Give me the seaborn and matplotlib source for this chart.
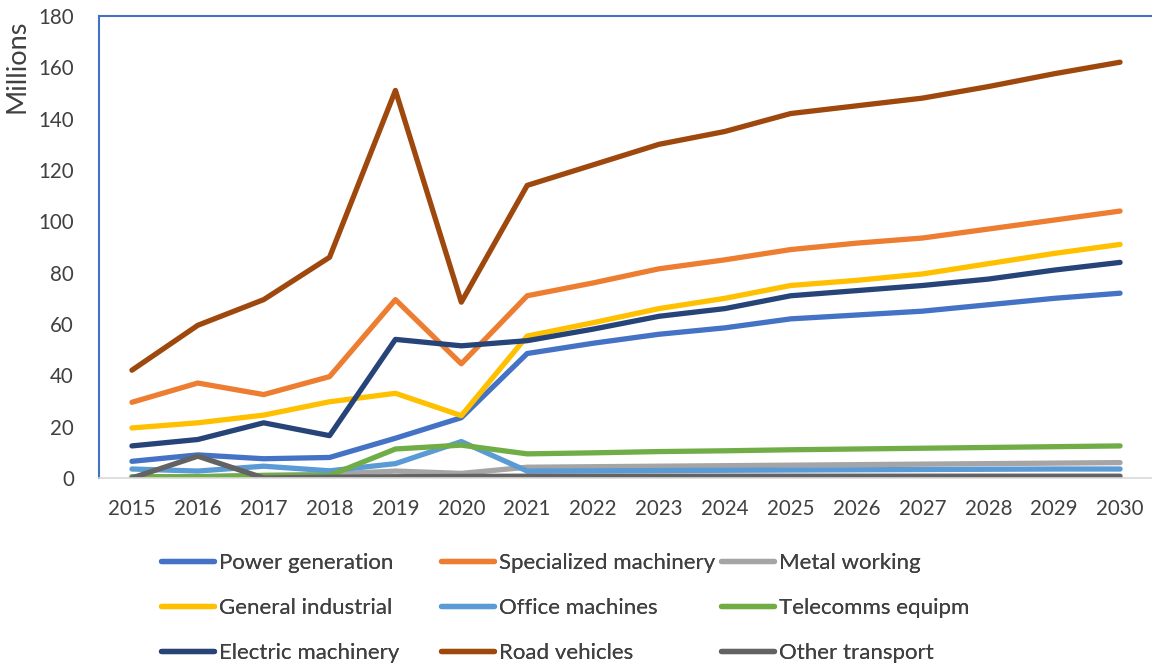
import numpy as np
import pandas as pd
import matplotlib
matplotlib.use("Agg")
import matplotlib.pyplot as plt
import seaborn as sns

years = [str(y) for y in range(2015, 2031)]

power_generation = [6.5, 9.0, 7.5, 8.0, 15.5, 23.5, 48.5, 52.5, 56.0, 58.5, 62.0, 63.5, 65.0, 67.5, 70.0, 72.0]
specialized_machinery = [29.5, 37.0, 32.5, 39.5, 69.5, 44.5, 71.0, 76.0, 81.5, 85.0, 89.0, 91.5, 93.5, 97.0, 100.5, 104.0]
metal_working = [0.5, 0.5, 1.0, 1.5, 2.7, 1.8, 4.2, 4.4, 4.6, 4.8, 5.0, 5.2, 5.4, 5.6, 5.8, 6.0]
general_industrial = [19.5, 21.5, 24.5, 29.7, 33.0, 24.3, 55.3, 60.5, 66.0, 70.0, 75.0, 77.0, 79.5, 83.5, 87.5, 91.0]
office_machines = [3.5, 2.7, 4.6, 2.8, 5.6, 14.2, 2.7, 2.8, 2.9, 3.0, 3.1, 3.2, 3.3, 3.4, 3.5, 3.5]
telecomms_equipm = [0.5, 0.5, 1.0, 1.0, 11.3, 12.8, 9.4, 9.8, 10.3, 10.6, 11.0, 11.3, 11.6, 11.9, 12.2, 12.5]
electric_machinery = [12.5, 15.0, 21.5, 16.5, 54.0, 51.5, 53.5, 58.0, 63.0, 66.0, 71.0, 73.0, 75.0, 77.5, 81.0, 84.0]
road_vehicles = [42.0, 59.5, 69.5, 86.0, 151.0, 68.5, 114.0, 122.0, 130.0, 135.0, 142.0, 145.0, 148.0, 152.5, 157.5, 162.0]
other_transport = [0.0, 8.5, 0.0, 0.3, 0.5, 0.6, 0.7, 0.7, 0.7, 0.7, 0.7, 0.7, 0.7, 0.7, 0.7, 0.7]

series_names = ["Power generation", "Specialized machinery", "Metal working",
                "General industrial", "Office machines", "Telecomms equipm",
                "Electric machinery", "Road vehicles", "Other transport"]
series_values = [power_generation, specialized_machinery, metal_working,
                 general_industrial, office_machines, telecomms_equipm,
                 electric_machinery, road_vehicles, other_transport]
series_colors = ["#4472C4", "#ED7D31", "#A5A5A5", "#FFC000", "#5B9BD5",
                 "#70AD47", "#264478", "#9E480E", "#636363"]

y_ticks = [0, 20, 40, 60, 80, 100, 120, 140, 160, 180]

rows = []
for name, vals in zip(series_names, series_values):
    for i, v in enumerate(vals):
        rows.append({"idx": i, "year": years[i], "value": v, "series": name})
df = pd.DataFrame(rows)

sns.set_theme(style="white")
plt.rcParams["font.family"] = ["Lato", "DejaVu Sans"]

TEXT = "#404040"
W, H = 1152, 667

fig = plt.figure(figsize=(W / 100, H / 100), dpi=100)
ax = fig.add_axes([99 / W, 1 - 478 / H, (1153 - 99) / W, (478 - 16) / H])

sns.lineplot(data=df, x="idx", y="value", hue="series", hue_order=series_names,
             palette=series_colors, linewidth=3.8, ax=ax, legend=False,
             solid_capstyle="round", solid_joinstyle="round")

ax.set_xlim(-0.5, 15.5)
ax.set_ylim(0, 180)
ax.set_xticks(range(len(years)))
ax.set_xticklabels(years)
ax.set_yticks(y_ticks)
ax.tick_params(axis="both", length=0, labelsize=14.8, labelcolor=TEXT)
ax.tick_params(axis="x", pad=15)
ax.tick_params(axis="y", pad=18)
ax.set_xlabel("")
ax.set_ylabel("")
ax.grid(False)

fig.text(17 / W, 1 - 66 / H, "Millions", rotation=90, ha="center", va="center",
         fontsize=19.5, color=TEXT)

ax.spines["left"].set_color("#4472C4")
ax.spines["top"].set_color("#4472C4")
ax.spines["left"].set_linewidth(1.5)
ax.spines["top"].set_linewidth(1.5)
ax.spines["bottom"].set_color("#D9D9D9")
ax.spines["bottom"].set_linewidth(1.2)
ax.spines["right"].set_visible(False)

# legend: three equal-width columns below the plot
handles = {name: plt.Line2D([], [], color=c, linewidth=3.8, solid_capstyle="round")
           for name, c in zip(series_names, series_colors)}
col_x = [161 / W, 441 / W, 721 / W]
for c in range(3):
    names = [series_names[c], series_names[c + 3], series_names[c + 6]]
    leg = fig.legend([handles[n] for n in names], names, loc="upper left",
                     bbox_to_anchor=(col_x[c], 1 - 553 / H), frameon=False,
                     fontsize=16, handlelength=2.4, handletextpad=0.22,
                     labelspacing=1.12, borderpad=0, borderaxespad=0)
    for t in leg.get_texts():
        t.set_color(TEXT)
    fig.add_artist(leg)

fig.savefig("out.png", dpi=100)
